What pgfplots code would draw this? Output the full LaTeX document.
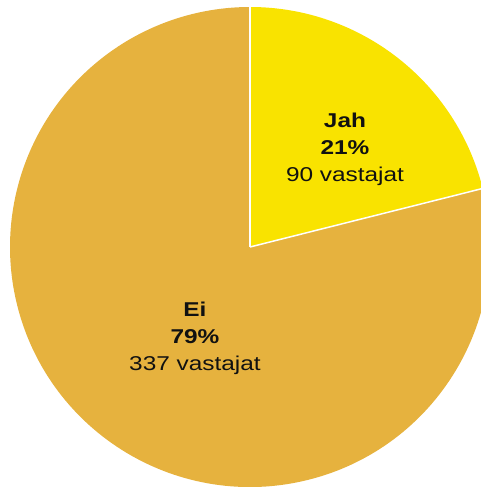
\documentclass[border=0pt]{standalone}
\usepackage{pgfplots}
\pgfplotsset{compat=1.18}
\usepackage{pgfplotstable}
\usepackage{fontspec}
\setmainfont{Liberation Sans}[FakeStretch=1.22]
\definecolor{jah}{HTML}{F9E300}
\definecolor{ei}{HTML}{E6B23E}
\definecolor{ink}{HTML}{111111}

% answers: count of respondents
\pgfplotstableread{
label count
Jah 90
Ei 337
}\piedata

\begin{document}
\begin{tikzpicture}
\pgfplotstablegetelem{0}{count}\of\piedata \let\cJah\pgfplotsretval
\pgfplotstablegetelem{1}{count}\of\piedata \let\cEi\pgfplotsretval
\pgfmathsetmacro{\aEnd}{90-360*(\cJah/(\cJah+\cEi))}
\begin{axis}[
  width=481pt, height=487pt, scale only axis,
  xmin=0, xmax=481, ymin=0, ymax=487,
  hide axis, clip=true,
]
% Jah slice
\fill[jah] (axis cs:250,240) -- ++(90:240pt) arc[start angle=90, end angle=\aEnd, radius=240pt] -- cycle;
% Ei slice
\fill[ei] (axis cs:250,240) -- ++(\aEnd:240pt) arc[start angle=\aEnd, end angle=-270, radius=240pt] -- cycle;
\draw[white, line width=1.5pt] (axis cs:250,240) -- ++(90:242pt);
\draw[white, line width=1.5pt] (axis cs:250,240) -- ++(\aEnd:242pt);
\node[align=center, text=ink, font=\fontsize{20}{27}\selectfont] at (axis cs:345,338)
  {\textbf{Jah}\\\textbf{21\%}\\90 vastajat};
\node[align=center, text=ink, font=\fontsize{20}{27}\selectfont] at (axis cs:195,149)
  {\textbf{Ei}\\\textbf{79\%}\\337 vastajat};
\end{axis}
\pgfresetboundingbox
\useasboundingbox (current axis.south west) rectangle (current axis.north east);
\end{tikzpicture}
\end{document}
